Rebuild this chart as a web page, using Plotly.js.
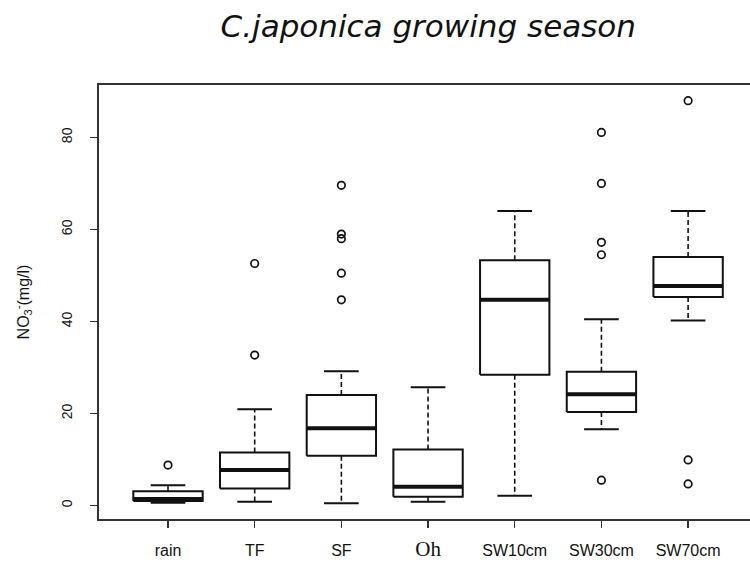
<!DOCTYPE html>
<html>
<head>
<meta charset="utf-8">
<script src="https://cdn.plot.ly/plotly-3.0.1.min.js"></script>
<style>
  html, body { margin: 0; padding: 0; background: #ffffff; }
  #chart { width: 750px; height: 567px; }
</style>
</head>
<body>
<div id="chart"></div>
<script>
// Nitrate concentration by sampling compartment (box statistics per group)
var categories = ['rain', 'TF', 'SF', 'Oh', 'SW10cm', 'SW30cm', 'SW70cm'];
var tickLabels = ['rain', 'TF', 'SF', '<span style="font-family:\'Liberation Serif\',serif;font-size:21px">Oh</span>', 'SW10cm', 'SW30cm', 'SW70cm'];

var lowerWhisker = [0.6, 0.8, 0.5, 0.8, 2.1, 16.6, 40.2];
var q1           = [1.0, 3.7, 10.8, 1.9, 28.4, 20.3, 45.3];
var median       = [1.4, 7.7, 16.8, 4.1, 44.7, 24.2, 47.7];
var q3           = [3.1, 11.5, 24.0, 12.2, 53.3, 29.1, 54.0];
var upperWhisker = [4.4, 20.9, 29.2, 25.7, 64.0, 40.5, 64.0];

var outliers = [
  [8.8],
  [52.6, 32.7],
  [69.6, 59.0, 58.0, 50.5, 44.7],
  [],
  [],
  [81.1, 70.0, 57.2, 54.5, 5.5],
  [88.0, 9.9, 4.7]
];

var yTicks = [0, 20, 40, 60, 80];

var HALF_BOX = 0.4;
var HALF_CAP = 0.2;

// segment helper: append a line segment with a break after it
function seg(xs, ys, x0, y0, x1, y1) {
  xs.push(x0, x1, null);
  ys.push(y0, y1, null);
}

var boxX = [], boxY = [];
var medX = [], medY = [];
var whX = [], whY = [];
var capX = [], capY = [];
var outX = [], outY = [];

categories.forEach(function (c, i) {
  var p = i + 1;
  boxX.push(p - HALF_BOX, p + HALF_BOX, p + HALF_BOX, p - HALF_BOX, p - HALF_BOX, null);
  boxY.push(q1[i], q1[i], q3[i], q3[i], q1[i], null);
  seg(medX, medY, p - HALF_BOX, median[i], p + HALF_BOX, median[i]);
  seg(whX, whY, p, q3[i], p, upperWhisker[i]);
  seg(whX, whY, p, q1[i], p, lowerWhisker[i]);
  seg(capX, capY, p - HALF_CAP, upperWhisker[i], p + HALF_CAP, upperWhisker[i]);
  seg(capX, capY, p - HALF_CAP, lowerWhisker[i], p + HALF_CAP, lowerWhisker[i]);
  outliers[i].forEach(function (v) { outX.push(p); outY.push(v); });
});

var ink = '#111111';

var traces = [
  { x: whX, y: whY, type: 'scatter', mode: 'lines', hoverinfo: 'skip',
    line: { color: ink, width: 1.6, dash: '5px,3px' } },
  { x: capX, y: capY, type: 'scatter', mode: 'lines', hoverinfo: 'skip',
    line: { color: ink, width: 2 } },
  { x: boxX, y: boxY, type: 'scatter', mode: 'lines', hoverinfo: 'skip',
    line: { color: ink, width: 2 } },
  { x: medX, y: medY, type: 'scatter', mode: 'lines', hoverinfo: 'skip',
    line: { color: ink, width: 4 } },
  { x: outX, y: outY, type: 'scatter', mode: 'markers', hoverinfo: 'skip',
    marker: { symbol: 'circle-open', size: 7.5, color: ink, line: { width: 1.7, color: ink } } }
];

var layout = {
  width: 750,
  height: 567,
  margin: { l: 99, r: 0, t: 85, b: 48 },
  paper_bgcolor: '#ffffff',
  plot_bgcolor: '#ffffff',
  showlegend: false,
  font: { family: "'Liberation Sans', Arial, sans-serif", color: ink },
  title: {
    text: '<i>C.japonica growing season</i>',
    font: { family: "'DejaVu Sans', sans-serif", size: 31, color: ink },
    x: 0.571, xanchor: 'center',
    y: 0.953, yanchor: 'middle'
  },
  xaxis: {
    range: [0.204, 7.714],
    tickmode: 'array',
    tickvals: categories.map(function (c, i) { return i + 1; }),
    ticktext: tickLabels,
    ticks: 'outside', ticklen: 7, tickwidth: 1.5, tickcolor: '#333333',
    ticklabelstandoff: 9,
    tickfont: { size: 16, color: ink },
    showline: true, linecolor: '#333333', linewidth: 2, mirror: true,
    showgrid: false, zeroline: false,
    fixedrange: true
  },
  yaxis: {
    range: [-2.93, 91.4],
    tickmode: 'array',
    tickvals: yTicks,
    ticktext: yTicks.map(String),
    tickangle: -90,
    ticks: 'outside', ticklen: 7, tickwidth: 1.5, tickcolor: '#333333',
    ticklabelstandoff: 12,
    tickfont: { size: 14, color: ink },
    showline: true, linecolor: '#333333', linewidth: 2,
    showgrid: false, zeroline: false,
    title: { text: 'NO<sub>3</sub><sup>-</sup>(mg/l)', font: { size: 16, color: ink }, standoff: 26 },
    fixedrange: true
  }
};

Plotly.newPlot('chart', traces, layout, { displayModeBar: false, staticPlot: true });
</script>
</body>
</html>
